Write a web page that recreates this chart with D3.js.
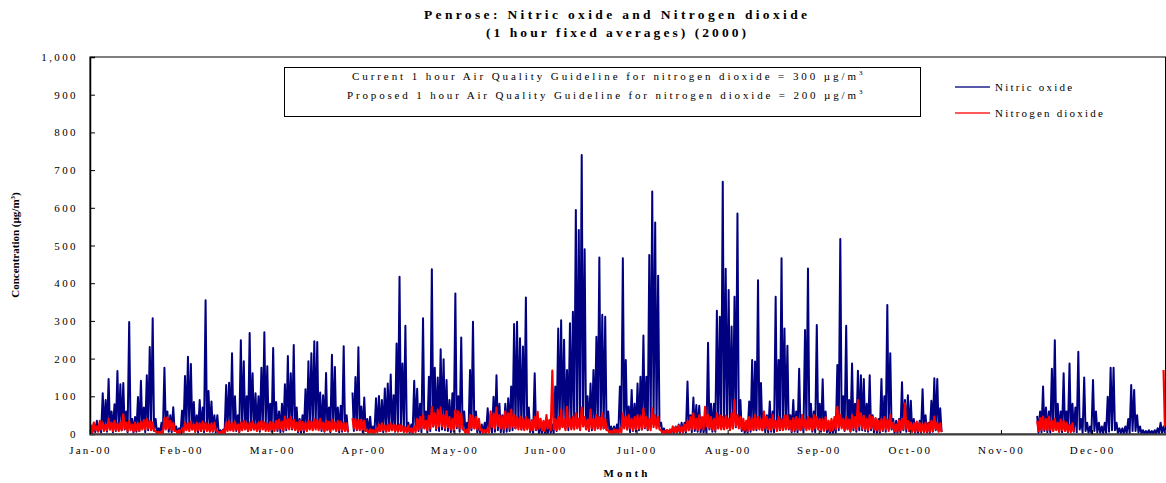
<!DOCTYPE html>
<html><head><meta charset="utf-8">
<script src="https://cdn.jsdelivr.net/npm/d3@7"></script>
<style>
body{margin:0;background:#fff}
svg{display:block;font-family:"Liberation Serif","Times New Roman",serif}
</style>
</head><body>
<svg id="chart" width="1166" height="483"></svg>
<script>
// ---- data ----
const monthLabels = ["Jan-00","Feb-00","Mar-00","Apr-00","May-00","Jun-00","Jul-00","Aug-00","Sep-00","Oct-00","Nov-00","Dec-00"];
const monthTickHours = [0,744,1488,2232,2976,3720,4464,5208,5952,6696,7440,8184];
const yTickValues = [0,100,200,300,400,500,600,700,800,900,1000];
const totalHours = 8784;

// Nitric oxide: daily peak and daily low (µg/m3), one entry per day of 2000
const nitricOxidePeak = [
20,30,35,25,108,90,146,60,79,167,
132,135,60,297,40,45,98,141,70,156,
231,307,40,15,30,176,60,50,71,20,
15,62,154,205,186,85,50,90,70,355,
114,86,50,50,10,12,130,136,214,100,
50,249,193,100,268,161,108,100,176,270,
180,80,228,85,60,80,132,207,161,236,
70,40,50,119,193,214,246,244,110,103,
162,70,210,178,70,75,233,50,null,110,
151,230,73,97,40,46,20,95,101,90,
121,134,158,103,240,417,187,287,30,25,
141,120,80,307,60,152,437,176,150,225,
198,143,90,108,373,100,256,60,30,170,
298,60,30,25,30,68,50,99,156,80,
50,80,95,126,292,298,254,232,362,70,
30,161,30,25,30,20,30,25,126,280,
302,250,170,294,324,594,541,740,490,100,
134,170,258,468,316,311,60,20,20,25,
126,466,196,73,117,80,134,152,261,152,
475,643,561,420,30,15,10,10,15,20,
25,30,30,139,50,97,77,75,40,30,
242,80,80,327,311,669,438,382,285,364,
585,90,30,25,86,196,192,408,135,60,
50,86,60,364,196,466,280,234,50,90,
60,173,50,276,439,80,60,289,80,145,
60,20,25,30,183,517,100,287,90,187,
80,168,156,146,80,156,50,40,40,146,
100,342,214,40,35,40,137,90,103,88,
40,30,35,119,50,30,88,148,146,68,
null,null,null,null,null,null,null,null,null,null,
null,null,null,null,null,null,null,null,null,null,
null,null,null,null,null,null,null,null,null,null,
null,null,48,60,126,70,60,173,249,80,
60,161,60,187,80,70,218,40,150,30,
20,143,60,30,20,30,99,176,176,30,
15,15,20,40,130,117,50,20,10,8,
10,8,10,15,30,20];
const nitricOxideLow = [
3,5,8,4,10,6,12,5,8,15,
10,12,5,20,4,6,8,15,5,10,
25,12,3,2,4,15,6,5,8,2,
2,5,15,20,12,6,4,8,5,15,
10,6,4,3,2,2,12,10,20,8,
5,15,18,8,20,12,10,6,15,22,
12,6,15,8,5,6,10,18,12,15,
5,3,4,10,15,18,20,15,8,6,
12,5,15,10,5,6,12,4,null,8,
10,12,5,8,3,4,2,6,8,5,
10,12,10,6,15,20,8,12,3,2,
10,8,5,15,4,8,20,10,8,12,
10,8,5,6,15,6,12,4,3,10,
15,4,2,2,3,5,4,6,10,5,
4,6,8,10,15,20,12,15,18,5,
3,10,2,2,3,2,3,2,8,15,
20,15,10,15,20,30,25,40,20,8,
10,12,15,20,15,12,4,2,2,3,
8,20,12,5,8,6,10,12,15,10,
20,30,25,20,3,2,2,2,2,3,
3,4,4,10,5,8,6,5,4,3,
12,6,6,15,15,25,20,20,15,18,
25,8,3,3,6,12,10,20,10,5,
4,6,5,15,10,20,15,12,5,6,
5,10,4,15,20,6,5,15,6,10,
5,2,2,3,10,20,8,15,6,10,
6,10,10,8,6,10,4,3,3,8,
6,15,12,3,3,4,10,6,8,6,
3,3,3,8,4,3,6,10,10,5,
null,null,null,null,null,null,null,null,null,null,
null,null,null,null,null,null,null,null,null,null,
null,null,null,null,null,null,null,null,null,null,
null,null,4,5,8,5,4,10,15,6,
5,10,5,10,6,5,12,3,8,3,
2,8,4,3,2,3,6,10,10,3,
2,2,2,3,8,8,4,2,1,1,
1,1,1,2,3,2];

// Nitrogen dioxide: daily peak and daily low (µg/m3)
const nitrogenDioxidePeak = [
25,30,20,35,30,25,40,30,35,28,
30,52,30,35,25,30,28,32,37,40,
35,30,8,5,6,42,44,35,30,8,
10,15,30,28,33,25,30,28,33,30,
25,28,30,8,5,10,30,35,28,32,
25,30,35,28,30,33,27,30,35,30,
28,32,30,35,38,33,46,40,45,38,
30,35,32,30,35,33,39,37,40,30,
35,32,38,30,35,33,30,28,null,42,
40,37,38,35,10,12,10,15,25,28,
22,25,28,25,22,25,20,18,22,15,
20,40,45,50,35,48,72,55,65,70,
50,60,45,40,64,60,55,10,12,50,
48,45,40,12,10,15,60,55,70,50,
46,60,55,65,50,45,46,40,45,38,
37,45,59,40,35,50,37,168,40,45,
65,38,72,40,45,55,40,70,45,38,
65,40,50,45,55,40,10,8,12,10,
15,55,46,50,40,45,50,46,68,45,
40,68,50,45,10,8,10,12,20,18,
22,20,25,35,45,55,40,50,45,72,
50,45,40,55,50,45,48,40,55,90,
50,45,40,35,45,40,50,45,38,59,
45,40,50,35,45,40,48,50,35,42,
45,40,50,38,45,40,50,45,40,38,
45,35,40,45,72,50,40,45,38,50,
45,90,55,48,40,50,45,42,35,40,
45,38,50,30,25,37,40,81,35,30,
28,33,30,25,30,28,35,46,30,28,
null,null,null,null,null,null,null,null,null,null,
null,null,null,null,null,null,null,null,null,null,
null,null,null,null,null,null,null,null,null,null,
null,null,35,42,46,40,46,35,40,30,
38,35,30,25,28,null,null,null,null,null,
null,null,null,null,null,null,null,null,null,null,
null,null,null,null,null,null,null,null,null,null,
null,null,null,null,null,170];
const nitrogenDioxideLow = [
5,10,6,12,8,10,12,8,10,8,
10,15,8,10,6,10,8,12,12,15,
10,8,2,2,2,12,15,10,8,2,
3,5,10,8,12,6,10,8,10,8,
6,8,10,2,2,3,8,10,8,12,
6,10,12,8,10,12,8,10,12,8,
8,10,8,12,15,10,15,12,15,10,
8,10,10,8,12,10,12,10,12,8,
10,8,12,8,10,10,8,6,null,15,
12,10,12,8,3,4,3,5,8,10,
6,8,10,8,6,8,5,5,6,4,
5,12,15,15,10,15,20,15,20,20,
15,18,12,10,20,15,15,3,3,15,
15,12,10,3,3,4,18,15,20,15,
12,18,15,20,15,12,12,10,12,10,
10,12,15,10,8,15,10,12,10,12,
18,10,20,12,12,15,10,20,12,10,
15,10,15,12,15,10,3,2,3,3,
4,15,12,15,10,12,15,12,18,12,
10,18,15,12,3,2,3,3,5,5,
6,5,8,10,12,15,10,15,12,20,
15,12,10,15,12,12,15,10,15,20,
15,12,10,8,12,10,15,12,10,15,
12,10,15,8,12,10,12,15,8,10,
12,10,15,10,12,10,15,12,10,8,
12,8,10,12,18,15,10,12,8,15,
12,20,15,12,10,15,12,10,8,10,
12,8,15,8,6,10,12,15,8,6,
6,8,6,5,6,6,8,12,6,5,
null,null,null,null,null,null,null,null,null,null,
null,null,null,null,null,null,null,null,null,null,
null,null,null,null,null,null,null,null,null,null,
null,null,8,10,12,10,12,8,10,6,
10,8,6,5,6,null,null,null,null,null,
null,null,null,null,null,null,null,null,null,null,
null,null,null,null,null,null,null,null,null,null,
null,null,null,null,null,20];

// ---- chart ----
const svg = d3.select("#chart");
const L = 90, R = 1165.5, T = 57, B = 434;
const x = d3.scaleLinear().domain([0, totalHours]).range([L, R]);
const y = d3.scaleLinear().domain([0, 1000]).range([B, T]);

function toPoints(peak, low) {
  const pts = [];
  peak.forEach((p, d) => {
    pts.push({h: d * 24 + 8, v: p});
    pts.push({h: d * 24 + 19, v: (p == null ? null : low[d])});
  });
  return pts;
}
const line = d3.line().defined(d => d.v != null).x(d => x(d.h)).y(d => y(d.v));

// title
const title = svg.append("g").attr("font-weight", "bold").attr("font-size", 13.5).attr("fill", "#000");
title.append("text").attr("x", 615.5).attr("y", 19).attr("text-anchor", "middle")
  .attr("textLength", 383).attr("lengthAdjust", "spacing").text("Penrose:  Nitric oxide and Nitrogen dioxide");
title.append("text").attr("x", 616).attr("y", 37).attr("text-anchor", "middle")
  .attr("textLength", 260).attr("lengthAdjust", "spacing").text("(1 hour fixed averages) (2000)");

// plot frame
svg.append("rect").attr("x", L).attr("y", T).attr("width", R - L).attr("height", B - T)
  .attr("fill", "none").attr("stroke", "#000").attr("stroke-width", 1);

// series
svg.append("path").datum(toPoints(nitricOxidePeak, nitricOxideLow)).attr("d", line)
  .attr("fill", "none").attr("stroke", "#000080").attr("stroke-width", 2).attr("stroke-linejoin", "round");
svg.append("path").datum(toPoints(nitrogenDioxidePeak, nitrogenDioxideLow)).attr("d", line)
  .attr("fill", "none").attr("stroke", "#ff0000").attr("stroke-width", 2.2).attr("stroke-linejoin", "round");

// y axis
const yAxis = svg.append("g").attr("transform", `translate(${L},0)`)
  .call(d3.axisLeft(y).tickValues(yTickValues).tickFormat(d3.format(",")).tickSize(-5).tickPadding(12));
yAxis.select(".domain").attr("stroke", "#000").attr("stroke-width", 1.5);
yAxis.selectAll(".tick line").attr("stroke", "#000");
yAxis.selectAll("text").attr("font-family", "Liberation Serif, serif").attr("font-size", 11)
  .attr("letter-spacing", "2.4px").attr("fill", "#000");

// x axis
const xAxis = svg.append("g").attr("transform", `translate(0,${B})`)
  .call(d3.axisBottom(x).tickValues(monthTickHours).tickFormat((d, i) => monthLabels[i]).tickSize(-4).tickPadding(12));
xAxis.select(".domain").attr("stroke", "#404040").attr("stroke-width", 2);
xAxis.selectAll(".tick line").attr("stroke", "#000");
xAxis.selectAll("text").attr("font-family", "Liberation Serif, serif").attr("font-size", 11)
  .attr("letter-spacing", "2.2px").attr("fill", "#000");

// axis titles
svg.append("text").attr("transform", "translate(19,245) rotate(-90)").attr("text-anchor", "middle")
  .attr("font-weight", "bold").attr("font-size", 11)
  .html('Concentration (µg/m<tspan font-size="7" dy="-4">3</tspan><tspan dy="4">)</tspan>');
svg.append("text").attr("x", 627).attr("y", 477).attr("text-anchor", "middle")
  .attr("font-weight", "bold").attr("font-size", 11).attr("letter-spacing", "3px").text("Month");

// guideline box
svg.append("rect").attr("x", 284.5).attr("y", 67.5).attr("width", 636).attr("height", 49)
  .attr("fill", "#fff").attr("stroke", "#000").attr("stroke-width", 1);
const boxLines = [
  {t: "Current 1 hour Air Quality Guideline for nitrogen dioxide = 300 µg/m", x0: 352, x1: 856, yy: 80},
  {t: "Proposed 1 hour Air Quality Guideline for nitrogen dioxide = 200 µg/m", x0: 347, x1: 856, yy: 99}
];
boxLines.forEach(b => {
  svg.append("text").attr("x", b.x0).attr("y", b.yy).attr("font-size", 11)
    .attr("textLength", b.x1 - b.x0).attr("lengthAdjust", "spacing").text(b.t);
  svg.append("text").attr("x", b.x1 + 3).attr("y", b.yy - 5).attr("font-size", 7).text("3");
});

// legend
const legend = [
  {name: "Nitric oxide", color: "#000080", yy: 87},
  {name: "Nitrogen dioxide", color: "#ff0000", yy: 113}
];
legend.forEach(l => {
  svg.append("line").attr("x1", 955).attr("x2", 990).attr("y1", l.yy).attr("y2", l.yy)
    .attr("stroke", l.color).attr("stroke-width", 2).attr("stroke-opacity", 0.65);
  svg.append("text").attr("x", 995).attr("y", l.yy + 4).attr("font-size", 11)
    .attr("letter-spacing", "2.2px").text(l.name);
});
</script>
</body></html>
